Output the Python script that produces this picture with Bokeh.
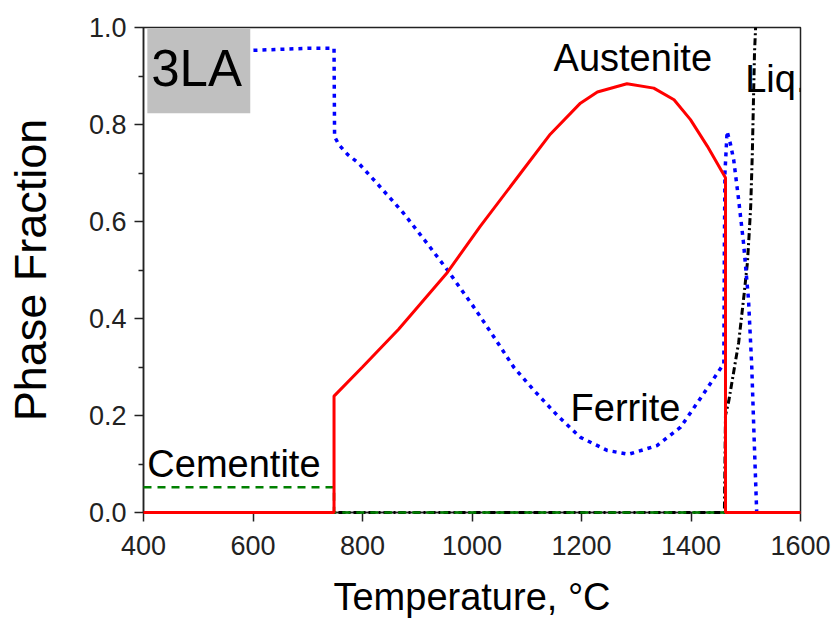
from bokeh.plotting import figure
from bokeh.models import FixedTicker, NumeralTickFormatter, Label, BoxAnnotation, Range1d
from bokeh.embed import file_html
from bokeh.resources import INLINE

# ---- data ----
ferrite_T = [420, 600, 700, 748, 749, 757, 773, 793, 827, 875, 918, 955, 1003, 1040,
             1076, 1113, 1156, 1198, 1247, 1286, 1338, 1381, 1423, 1460, 1461, 1462,
             1466, 1472, 1478, 1487, 1496, 1505, 1511, 1515, 1520]
ferrite_f = [0.951, 0.953, 0.957, 0.957, 0.775, 0.758, 0.738, 0.72, 0.678, 0.617, 0.555,
             0.5, 0.424, 0.362, 0.30, 0.252, 0.20, 0.155, 0.128, 0.12, 0.138, 0.176,
             0.245, 0.307, 0.55, 0.70, 0.786, 0.76, 0.727, 0.645, 0.555, 0.44, 0.30,
             0.163, 0.0]

austenite_T = [400, 748, 748, 800, 866, 955, 1015, 1089, 1143, 1198, 1229, 1283, 1332,
               1369, 1399, 1430, 1463, 1463, 1600]
austenite_f = [0, 0, 0.24, 0.30, 0.378, 0.495, 0.59, 0.70, 0.78, 0.844, 0.867, 0.884,
               0.875, 0.851, 0.81, 0.755, 0.69, 0, 0]

cementite_T = [400, 748, 748, 1463]
cementite_f = [0.052, 0.052, 0.0, 0.0]

liquid_T = [400, 1461, 1463, 1469, 1475, 1481, 1487, 1493, 1497, 1503, 1506, 1509,
            1512, 1514, 1516, 1518]
liquid_f = [0, 0, 0.2, 0.23, 0.27, 0.31, 0.35, 0.41, 0.45, 0.515, 0.57, 0.63, 0.74,
            0.845, 0.948, 1.0]

x_ticks = [400, 600, 800, 1000, 1200, 1400, 1600]
y_ticks = [0.0, 0.2, 0.4, 0.6, 0.8, 1.0]
y_minor = [0.1, 0.3, 0.5, 0.7, 0.9]

# annotation anchors (data units)
labels = [("Austenite", 1149, 0.938), ("Ferrite", 1180, 0.216),
          ("Liq.", 1499, 0.893), ("Cementite", 407, 0.099)]
tag_text, tag_pos = "3LA", (414, 0.915)
tag_box = (407, 595, 0.823, 0.998)

FONT = "Liberation Sans"

p = figure(width=838, height=623, output_backend="svg", toolbar_location=None,
           x_range=Range1d(400, 1600), y_range=Range1d(0, 1.0),
           min_border_left=143, min_border_right=38, min_border_top=27,
           min_border_bottom=111)
p.grid.visible = False
p.outline_line_color = "#222222"
p.outline_line_width = 1.5
p.background_fill_color = "white"
p.border_fill_color = "white"

xa = p.xaxis[0]
xa.ticker = FixedTicker(ticks=x_ticks)
xa.axis_label = "Temperature, °C"
xa.axis_label_text_font = FONT
xa.axis_label_text_font_size = "38px"
xa.axis_label_text_font_style = "normal"
xa.axis_label_text_color = "black"
xa.axis_label_standoff = 18
xa.major_label_text_font = FONT
xa.major_label_text_font_size = "27px"
xa.major_label_text_color = "#222222"
xa.major_label_standoff = 14
xa.major_tick_out = 9
xa.major_tick_in = 0
xa.minor_tick_line_color = None
xa.axis_line_color = "#222222"
xa.axis_line_width = 1.5
xa.major_tick_line_color = "#222222"
xa.major_tick_line_width = 1.5

ya = p.yaxis[0]
ya.ticker = FixedTicker(ticks=y_ticks, minor_ticks=y_minor)
ya.formatter = NumeralTickFormatter(format="0.0")
ya.axis_label = "Phase Fraction"
ya.axis_label_text_font = FONT
ya.axis_label_text_font_size = "45px"
ya.axis_label_text_font_style = "normal"
ya.axis_label_text_color = "black"
ya.axis_label_standoff = 30
ya.major_label_text_font = FONT
ya.major_label_text_font_size = "27px"
ya.major_label_text_color = "#222222"
ya.major_label_standoff = 8
ya.major_tick_out = 9
ya.major_tick_in = 0
ya.minor_tick_out = 5
ya.minor_tick_in = 0
ya.axis_line_color = "#222222"
ya.axis_line_width = 1.5
ya.major_tick_line_color = "#222222"
ya.major_tick_line_width = 1.5
ya.minor_tick_line_color = "#222222"
ya.minor_tick_line_width = 1.5

# curves (overlay level so that they sit on top of the axis lines, like the reference)
p.line(liquid_T, liquid_f, line_color="black", line_width=3,
       line_dash="7 3 2 3", level="overlay")
p.line(cementite_T, cementite_f, line_color="#008000", line_width=2.5,
       line_dash="8 6", level="overlay")
p.line(ferrite_T, ferrite_f, line_color="#0000ff", line_width=3.5,
       line_dash="4 5", level="overlay")
p.line(austenite_T, austenite_f, line_color="#ff0000", line_width=3, level="overlay")

box = BoxAnnotation(left=tag_box[0], right=tag_box[1], bottom=tag_box[2], top=tag_box[3],
                    fill_color="#c0c0c0", fill_alpha=1.0, line_color=None, level="overlay")
p.add_layout(box)
p.add_layout(Label(x=tag_pos[0], y=tag_pos[1], text=tag_text, text_font=FONT,
                   text_font_size="51px", text_color="black", text_align="left",
                   text_baseline="alphabetic", level="overlay"))

for txt, tx, ty in labels:
    p.add_layout(Label(x=tx, y=ty, text=txt, text_font=FONT, text_font_size="38px",
                       text_color="black", text_align="left",
                       text_baseline="alphabetic", level="overlay"))

open("out.html", "w").write(file_html(p, INLINE))
